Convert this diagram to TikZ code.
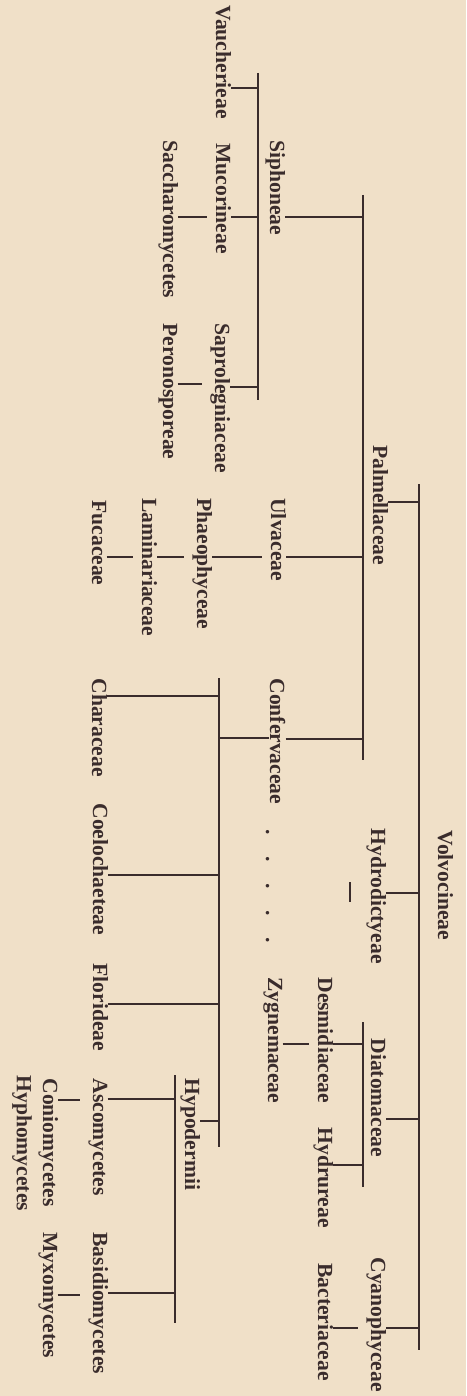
\documentclass[tikz,border=0pt]{standalone}
\usepackage{fontspec}
\setmainfont{Liberation Serif}
\definecolor{paper}{RGB}{240,224,200}
\definecolor{ink}{RGB}{58,44,44}
\tikzset{
  taxon/.style={rotate=-90, anchor=base west, inner sep=0pt, text=ink,
    font=\fontsize{10.8}{13}\selectfont\bfseries},
  tick/.style={draw=ink, line width=0.8pt},
  bar/.style={draw=ink, line width=0.9pt}
}
\begin{document}
\begin{tikzpicture}[x=0.5pt,y=-0.5pt]

  \fill[paper] (0,0) rectangle (466,1396);
  \useasboundingbox (0,0) rectangle (466,1396);

  % group lines
  \coordinate (volv-a) at (419,484);  \coordinate (volv-b) at (419,1350);
  \coordinate (palm-a) at (363,195);  \coordinate (palm-b) at (363,760);
  \coordinate (siph-a) at (258,73);   \coordinate (siph-b) at (258,400);
  \coordinate (conf-a) at (219,678);  \coordinate (conf-b) at (219,1147);
  \coordinate (hypo-a) at (175,1075); \coordinate (hypo-b) at (175,1323);
  \coordinate (diat-a) at (363,1022); \coordinate (diat-b) at (363,1187);
  \foreach \g in {volv,palm,siph,conf,hypo,diat}
    \draw[bar] (\g-a) -- (\g-b);

  \begin{scope}[every node/.style={taxon}]
    \node (volv)   at (438,830)  {Volvocineae};
    \node (palm)   at (373,445)  {Palmellaceae};
    \node (hydro)  at (371,828)  {Hydrodictyeae};
    \node (diat)   at (371,1038) {Diatomaceae};
    \node (cyano)  at (371,1257) {Cyanophyceae};
    \node (desm)   at (318,977)  {Desmidiaceae};
    \node (hydrur) at (318,1127) {Hydrureae};
    \node (bact)   at (318,1263) {Bacteriaceae};
    \node (siph)   at (270,140)  {Siphoneae};
    \node (ulva)   at (271,498)  {Ulvaceae};
    \node (conf)   at (270,678)  {Confervaceae};
    \node (zygn)   at (268,977)  {Zygnemaceae};
    \node (dots)   at (266,829)
      {.\hspace{10.8pt}.\hspace{10.8pt}.\hspace{10.8pt}.\hspace{10.8pt}.};
    \node (vauch)  at (216,5)    {Vaucherieae};
    \node (muco)   at (216,143)  {Mucorineae};
    \node (sapro)  at (215,323)  {Saprolegniaceae};
    \node (phaeo)  at (197,498)  {Phaeophyceae};
    \node (hypo)   at (185,1078) {Hypodermii};
    \node (sacch)  at (163,140)  {Saccharomycetes};
    \node (peron)  at (163,323)  {Peronosporeae};
    \node (lamin)  at (142,498)  {Laminariaceae};
    \node (fuca)   at (92,500)   {Fucaceae};
    \node (chara)  at (92,678)   {Characeae};
    \node (coelo)  at (93,803)   {Coelochaeteae};
    \node (flori)  at (93,963)   {Florideae};
    \node (asco)   at (93,1078)  {Ascomycetes};
    \node (basid)  at (93,1232)  {Basidiomycetes};
    \node (conio)  at (43,1078)  {Coniomycetes};
    \node (myxo)   at (43,1232)  {Myxomycetes};
    \node (hypho)  at (17,1075)  {Hyphomycetes};
  \end{scope}

  % ticks from a taxon to its group line
  \foreach \t/\g/\y in {palm/volv/502, hydro/volv/893, diat/volv/1119,
      cyano/volv/1328, siph/palm/217, ulva/palm/557, conf/palm/739,
      vauch/siph/88, muco/siph/217, sapro/siph/387, desm/diat/1044,
      hydrur/diat/1165, chara/conf/696, coelo/conf/875, flori/conf/1004,
      hypo/conf/1121, asco/hypo/1099, basid/hypo/1293}
    \draw[tick] (\t.north |- 0,\y) -- (\g-a |- 0,\y);
  \draw[tick] (conf.south |- 0,738) -- (conf-a |- 0,738);

  % ticks from a taxon to the one it follows
  \foreach \c/\p/\y in {sacch/muco/217, peron/sapro/384, phaeo/ulva/557,
      lamin/phaeo/557, fuca/lamin/557, zygn/desm/1044, bact/cyano/1328,
      conio/asco/1100, myxo/basid/1295}
    \draw[tick, shorten >=4pt] (\c.north |- 0,\y) -- (\p.south |- 0,\y);

  \draw[tick] (350,882) -- (350,902);

\end{tikzpicture}
\end{document}
